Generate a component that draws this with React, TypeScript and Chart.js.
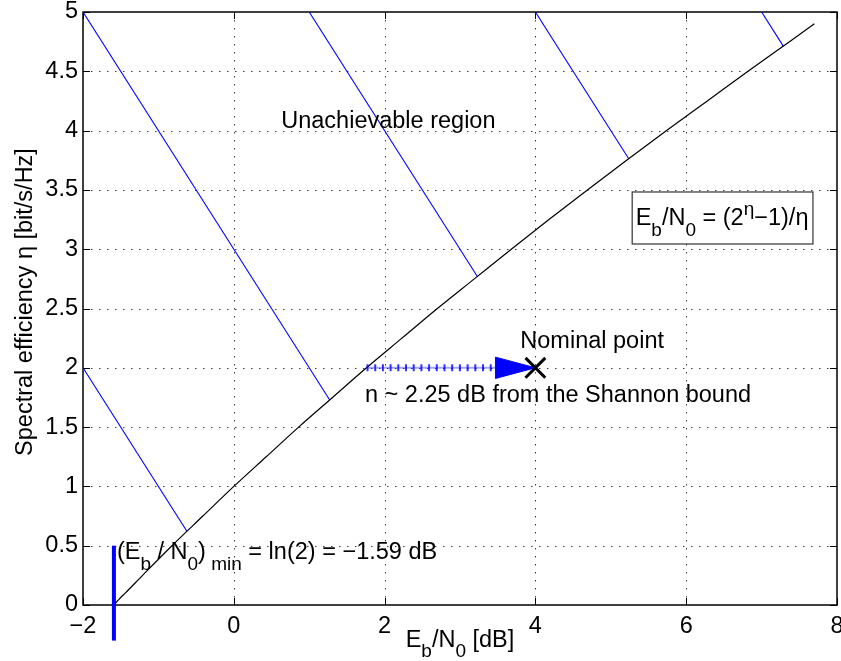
import React, { useEffect, useRef } from 'react';
import { Chart, registerables } from 'chart.js';

Chart.register(...registerables);

// ---- data ----
const xMin = -2;
const xMax = 8;
const xStep = 2;
const yMin = 0;
const yMax = 5;
const yStep = 0.5;

// Shannon bound: spectral efficiency (eta) vs Eb/N0 [dB]
const shannonEta = [0, 0.05, 0.1, 0.25, 0.5, 0.75, 1, 1.25, 1.5, 1.75, 2, 2.25, 2.5, 2.75, 3, 3.25, 3.5, 3.75, 4, 4.25, 4.5, 4.75, 4.9];
const shannonEbN0 = [-1.59, -1.52, -1.44, -1.21, -0.82, -0.41, 0, 0.43, 0.86, 1.31, 1.76, 2.23, 2.7, 3.19, 3.68, 4.18, 4.69, 5.21, 5.74, 6.28, 6.82, 7.37, 7.7];

// hatch lines of the unachievable region
const hatchStartX = [-2, -2, 1.0, 4.0, 7.0];
const hatchStartY = [2, 5, 5, 5, 5];
const hatchEndX = [-0.62, 1.27, 3.23, 5.24, 7.29];
const hatchEndY = [0.62, 1.73, 2.77, 3.76, 4.71];

// minimum Eb/N0 marker
const minLineX = [-1.59, -1.59];
const minLineY = [-0.3, 0.5];

// distance arrow to nominal point
const arrowX = [1.76, 3.48];
const arrowY = [2, 2];
const arrowHeadX = [3.47, 4.0, 3.47, 3.47];
const arrowHeadY = [2.09, 2.0, 1.91, 2.09];
const nominalX = [4];
const nominalY = [2];

// annotation anchors (data coordinates)
const unachievablePos = [2.05, 4.08];
const formulaPos = [5.33, 3.2];
const nominalTextPos = [3.8, 2.17];
const shannonTextPos = [1.74, 1.71];
const minTextPos = [-1.55, 0.39];

const FONT = '"Liberation Sans", Arial, Helvetica, sans-serif';
const FS = 23.5;
const SUB = 19;

type Seg = [string, 'n' | 'sub' | 'sup'];

function segFont(kind: string) {
  return `${kind === 'n' ? FS : SUB}px ${FONT}`;
}
function richWidth(ctx: CanvasRenderingContext2D, segs: Seg[]) {
  let w = 0;
  for (const [t, k] of segs) {
    ctx.font = segFont(k);
    w += ctx.measureText(t).width;
  }
  return w;
}
function drawRich(ctx: CanvasRenderingContext2D, segs: Seg[], x: number, y: number, subShift = 10, supShift = -10) {
  let cx = x;
  ctx.textBaseline = 'alphabetic';
  ctx.textAlign = 'left';
  for (const [t, k] of segs) {
    ctx.font = segFont(k);
    const dy = k === 'sub' ? subShift : k === 'sup' ? supShift : 0;
    ctx.fillText(t, cx, y + dy);
    cx += ctx.measureText(t).width;
  }
  return cx - x;
}

const decor = {
  id: 'decor',
  beforeDatasetsDraw(chart: any) {
    const { ctx, chartArea: a, scales } = chart;
    const xs = scales.x;
    const ys = scales.y;
    ctx.save();
    // dotted grid
    ctx.strokeStyle = 'rgba(0,0,0,0.75)';
    ctx.lineWidth = 1;
    ctx.setLineDash([1.5, 6.5]);
    for (let v = xMin + xStep; v < xMax; v += xStep) {
      const px = Math.round(xs.getPixelForValue(v)) + 0.5;
      ctx.beginPath();
      ctx.moveTo(px, a.top);
      ctx.lineTo(px, a.bottom);
      ctx.stroke();
    }
    for (let v = yMin + yStep; v < yMax - 1e-9; v += yStep) {
      const py = Math.round(ys.getPixelForValue(v)) + 0.5;
      ctx.beginPath();
      ctx.moveTo(a.left, py);
      ctx.lineTo(a.right, py);
      ctx.stroke();
    }
    ctx.setLineDash([]);
    // frame
    ctx.strokeStyle = '#000';
    ctx.lineWidth = 1.5;
    ctx.strokeRect(a.left, a.top, a.right - a.left, a.bottom - a.top);
    // inward ticks
    ctx.lineWidth = 1;
    const tl = 7;
    for (let v = xMin; v <= xMax; v += xStep) {
      const px = Math.round(xs.getPixelForValue(v)) + 0.5;
      ctx.beginPath();
      ctx.moveTo(px, a.bottom);
      ctx.lineTo(px, a.bottom - tl);
      ctx.moveTo(px, a.top);
      ctx.lineTo(px, a.top + tl);
      ctx.stroke();
    }
    for (let v = yMin; v <= yMax + 1e-9; v += yStep) {
      const py = Math.round(ys.getPixelForValue(v)) + 0.5;
      ctx.beginPath();
      ctx.moveTo(a.left, py);
      ctx.lineTo(a.left + tl, py);
      ctx.moveTo(a.right, py);
      ctx.lineTo(a.right - tl, py);
      ctx.stroke();
    }
    ctx.restore();
  },
  afterDatasetsDraw(chart: any) {
    const { ctx, chartArea: a, scales } = chart;
    const xs = scales.x;
    const ys = scales.y;
    const px = (v: number) => xs.getPixelForValue(v);
    const py = (v: number) => ys.getPixelForValue(v);
    ctx.save();
    ctx.fillStyle = '#000';

    // Unachievable region
    ctx.font = `${FS}px ${FONT}`;
    ctx.textAlign = 'center';
    ctx.textBaseline = 'middle';
    ctx.fillText('Unachievable region', px(unachievablePos[0]), py(unachievablePos[1]));

    // formula box
    const fSegs: Seg[] = [['E', 'n'], ['b', 'sub'], ['/N', 'n'], ['0', 'sub'], [' = (2', 'n'], ['\u03B7', 'sup'], ['\u22121)/\u03B7', 'n']];
    const fx = px(formulaPos[0]);
    const fy = py(formulaPos[1]);
    const fw = richWidth(ctx, fSegs);
    ctx.fillStyle = '#fff';
    ctx.fillRect(fx - 4, fy - 34, fw + 8, 52);
    ctx.strokeStyle = '#333';
    ctx.lineWidth = 1.2;
    ctx.strokeRect(fx - 4 + 0.5, fy - 34 + 0.5, fw + 8, 52);
    ctx.fillStyle = '#000';
    drawRich(ctx, fSegs, fx, fy, 11, -10);

    // Nominal point
    drawRich(ctx, [['Nominal point', 'n']], px(nominalTextPos[0]), py(nominalTextPos[1]));
    // distance text
    drawRich(ctx, [['n ~ 2.25 dB from the Shannon bound', 'n']], px(shannonTextPos[0]), py(shannonTextPos[1]));
    // minimum Eb/N0
    drawRich(ctx, [['(E', 'n'], ['b', 'sub'], [' / N', 'n'], ['0', 'sub'], [')', 'n'], [' min', 'sub'], [' = ln(2) = \u22121.59 dB', 'n']], px(minTextPos[0]), py(minTextPos[1]), 11);

    // x axis title
    const xt: Seg[] = [['E', 'n'], ['b', 'sub'], ['/N', 'n'], ['0', 'sub'], [' [dB]', 'n']];
    const xw = richWidth(ctx, xt);
    drawRich(ctx, xt, (a.left + a.right) / 2 - xw / 2, 647, 10);

    // y axis title
    ctx.save();
    ctx.translate(32, 302);
    ctx.rotate(-Math.PI / 2);
    ctx.font = `${FS}px ${FONT}`;
    ctx.textAlign = 'center';
    ctx.textBaseline = 'alphabetic';
    ctx.fillText('Spectral efficiency \u03B7 [bit/s/Hz]', 0, 0);
    ctx.restore();

    ctx.restore();
  },
};

function pts(xs: number[], ys: number[]) {
  return xs.map((x, i) => ({ x, y: ys[i] }));
}

export default function App() {
  const ref = useRef<HTMLCanvasElement>(null);
  useEffect(() => {
    if (!ref.current) return;
    const blue = '#0000ff';
    const hatchSets = hatchStartX.map((sx, i) => ({
      data: [{ x: sx, y: hatchStartY[i] }, { x: hatchEndX[i], y: hatchEndY[i] }],
      showLine: true,
      borderColor: blue,
      borderWidth: 1.1,
      pointRadius: 0,
      fill: false,
    }));
    const chart = new Chart(ref.current, {
      type: 'scatter',
      data: {
        datasets: [
          {
            data: pts(nominalX, nominalY),
            pointStyle: 'crossRot',
            pointRadius: 14,
            borderColor: '#000',
            borderWidth: 3,
            showLine: false,
          },
          {
            data: pts(arrowHeadX, arrowHeadY),
            showLine: true,
            fill: 'shape',
            backgroundColor: blue,
            borderColor: blue,
            borderWidth: 1,
            pointRadius: 0,
          },
          {
            data: pts(arrowX, arrowY),
            showLine: true,
            borderColor: 'rgba(0,0,255,0.8)',
            borderWidth: 7,
            borderDash: [2, 5.7],
            pointRadius: 0,
          },
          {
            data: pts(arrowX, arrowY),
            showLine: true,
            borderColor: 'rgba(0,0,255,0.35)',
            borderWidth: 2,
            pointRadius: 0,
          },
          {
            data: pts(minLineX, minLineY),
            showLine: true,
            borderColor: blue,
            borderWidth: 4,
            pointRadius: 0,
            clip: false,
          },
          {
            data: pts(shannonEbN0, shannonEta),
            showLine: true,
            borderColor: '#000',
            borderWidth: 1.2,
            pointRadius: 0,
            tension: 0.3,
            cubicInterpolationMode: 'monotone',
          },
          ...hatchSets,
        ] as any,
      },
      options: {
        responsive: false,
        animation: false,
        events: [],
        layout: { autoPadding: false, padding: { top: 12, right: 4, left: 0, bottom: 0 } },
        plugins: { legend: { display: false }, tooltip: { enabled: false } },
        scales: {
          x: {
            type: 'linear',
            min: xMin,
            max: xMax,
            grid: { display: false, drawTicks: false },
            border: { display: false },
            ticks: {
              stepSize: xStep,
              padding: 7,
              color: '#000',
              font: { family: FONT, size: FS },
              callback: (v: any) => String(v).replace('-', '\u2212'),
            },
            afterFit: (s: any) => {
              s.height = 56;
              s.paddingLeft = 0;
              s.paddingRight = 0;
            },
          },
          y: {
            type: 'linear',
            min: yMin,
            max: yMax,
            grid: { display: false, drawTicks: false },
            border: { display: false },
            ticks: {
              stepSize: yStep,
              padding: 5,
              color: '#000',
              font: { family: FONT, size: FS },
              callback: (v: any) => String(v),
            },
            afterFit: (s: any) => {
              s.width = 83;
              s.paddingTop = 0;
              s.paddingBottom = 0;
            },
          },
        },
      } as any,
      plugins: [decor],
    });
    return () => chart.destroy();
  }, []);
  return (
    <div style={{ position: 'absolute', left: 0, top: 0, width: 841, height: 661, background: '#fff' }}>
      <canvas ref={ref} width={841} height={661} />
    </div>
  );
}
